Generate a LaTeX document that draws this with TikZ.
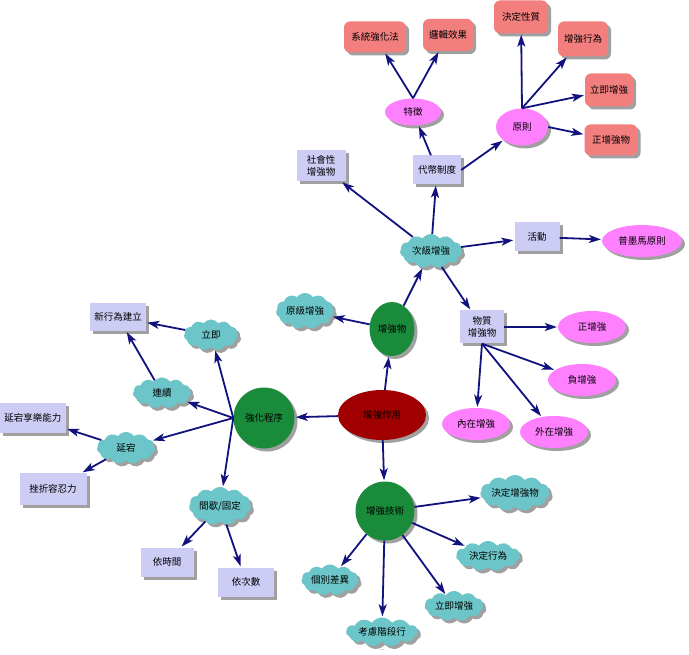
\documentclass[tikz,border=0pt]{standalone}
\usepackage{fontspec}
\newfontfamily\cjk{Noto Sans CJK TC}
\usetikzlibrary{shapes.geometric,shapes.symbols,shadows,arrows.meta}
\definecolor{navy}{HTML}{12127F}
\definecolor{boxc}{HTML}{CCCCF5}
\definecolor{rboxc}{HTML}{F27E7E}
\definecolor{pinkc}{HTML}{FF80FF}
\definecolor{cloudc}{HTML}{6CC5C8}
\definecolor{greenc}{HTML}{1A8B3B}
\definecolor{redc}{HTML}{A00000}
\definecolor{shadowc}{HTML}{A0A0A0}
\tikzset{
  base/.style={font=\cjk\fontsize{9.5}{11.5}\selectfont, text=black, inner sep=1pt, align=center,
    drop shadow={opacity=1,fill=shadowc,shadow xshift=3pt,shadow yshift=-3pt}},
  box/.style={base, rectangle, fill=boxc},
  rbox/.style={base, rectangle, rounded corners=6pt, fill=rboxc},
  pell/.style={base, ellipse, fill=pinkc},
  gell/.style={base, ellipse, fill=greenc},
  rell/.style={base, ellipse, fill=redc},
  cloudn/.style={base, cloud, cloud puffs=11, cloud puff arc=110, cloud ignores aspect, fill=cloudc},
  conn/.style={draw=navy, line width=1.8pt, -{Stealth[length=12pt,width=8pt,inset=3pt]}, shorten >=1pt},
  sz/.style 2 args={minimum width=#1pt, minimum height=#2pt}
}
\begin{document}
\begin{tikzpicture}[x=1pt,y=-1pt]
\useasboundingbox[fill=white] (0,0) rectangle (689,655);
% centre
\node[rell, sz={88}{50}] (zy) at (382,415) {增強作用};
% reinforcer branch
\node[gell, sz={45}{54}] (qhw) at (392,329) {增強物};
\node[cloudn, sz={58}{36}] (yjzq) at (305,311) {原級增強};
\node[cloudn, sz={62}{34}] (cjzq) at (431,251) {次級增強};
\node[box, sz={49}{31}] (shx) at (321,166) {社會性\\增強物};
\node[box, sz={48}{29}] (dbzd) at (437,170) {代幣制度};
\node[pell, sz={56}{27}] (tz) at (413,112) {特徵};
\node[pell, sz={52}{37}] (yz) at (522,127) {原則};
\node[rbox, sz={62}{31}] (xt) at (375,37) {系統強化法};
\node[rbox, sz={50}{32}] (lj) at (448,35) {邏輯效果};
\node[rbox, sz={54}{33}] (jdxz) at (521,17) {決定性質};
\node[rbox, sz={50}{35}] (zqxw) at (583,39) {增強行為};
\node[rbox, sz={48}{33}] (ljzq) at (609,90) {立即增強};
\node[rbox, sz={53}{31}] (zzqw) at (611,140) {正增強物};
\node[box, sz={45}{29}] (hd) at (537,237) {活動};
\node[pell, sz={80}{32}] (pml) at (642,241) {普墨馬原則};
\node[box, sz={44}{33}] (wz) at (482,327) {物質\\增強物};
\node[pell, sz={68}{32}] (zzq) at (592,327) {正增強};
\node[pell, sz={68}{32}] (fzq) at (582,380) {負增強};
\node[pell, sz={68}{32}] (nzzq) at (476,424) {內在增強};
\node[pell, sz={68}{32}] (wzzq) at (554,432) {外在增強};
% schedule branch
\node[gell, sz={61}{61}] (qhcx) at (264,418) {強化程序};
\node[cloudn, sz={54}{31}] (lij) at (211,335) {立即};
\node[cloudn, sz={58}{31}] (lx) at (162,393) {連續};
\node[box, sz={56}{28}] (xxw) at (118,317) {新行為建立};
\node[cloudn, sz={58}{32}] (yd) at (126,448) {延宕};
\node[box, sz={66}{30}] (ydxl) at (33,418) {延宕享樂能力};
\node[box, sz={67}{32}] (czrr) at (53,489) {挫折容忍力};
\node[cloudn, sz={62}{38}] (jx) at (220,506) {間歇/固定};
\node[box, sz={53}{29}] (ysj) at (167,562) {依時間};
\node[box, sz={56}{29}] (ycs) at (246,582) {依次數};
% technique branch
\node[gell, sz={59}{59}] (zqjs) at (385,511) {增強技術};
\node[cloudn, sz={64}{36}] (jdzqw) at (515,493) {決定增強物};
\node[cloudn, sz={64}{30}] (jdxw) at (488,556) {決定行為};
\node[cloudn, sz={59}{30}] (ljzq2) at (454,606) {立即增強};
\node[cloudn, sz={57}{31}] (gbcy) at (330,580) {個別差異};
\node[cloudn, sz={72}{29}] (klj) at (382,632) {考慮階段行};
\node[font=\cjk\fontsize{5}{5}\selectfont, inner sep=0pt] (dots) at (382,650) {…};
% connectors
\draw[conn] (zy) -- (qhw);
\draw[conn] (zy) -- (qhcx);
\draw[conn] (zy) -- (zqjs);
\draw[conn] (qhw) -- (yjzq);
\draw[conn] (qhw) -- (cjzq);
\draw[conn] (cjzq) -- (shx);
\draw[conn] (cjzq) -- (dbzd);
\draw[conn] (cjzq) -- (hd);
\draw[conn] (cjzq) -- (wz);
\draw[conn] (hd) -- (pml);
\draw[conn] (dbzd) -- (tz);
\draw[conn] (dbzd.east) -- (yz);
\draw[conn] (tz.north) -- (xt);
\draw[conn] (tz.north) -- (lj);
\draw[conn] (yz.north) -- (jdxz);
\draw[conn] (yz.north) -- (zqxw);
\draw[conn] (yz.north) -- (ljzq);
\draw[conn] (yz.east) -- (zzqw);
\draw[conn] (wz.east) -- (zzq);
\draw[conn] (wz.south) -- (fzq);
\draw[conn] (wz.south) -- (nzzq);
\draw[conn] (wz.south) -- (wzzq);
\draw[conn] (qhcx.west) -- (lij);
\draw[conn] (qhcx.west) -- (lx);
\draw[conn] (qhcx.west) -- (yd);
\draw[conn] (qhcx.west) -- (jx);
\draw[conn] (lij) -- (xxw);
\draw[conn] (lx) -- (xxw);
\draw[conn] (yd) -- (ydxl);
\draw[conn] (yd) -- (czrr);
\draw[conn] (jx) -- (ysj);
\draw[conn] (jx) -- (ycs);
\draw[conn] (zqjs) -- (jdzqw);
\draw[conn] (zqjs) -- (jdxw);
\draw[conn] (zqjs) -- (ljzq2);
\draw[conn] (zqjs) -- (gbcy);
\draw[conn] (zqjs) -- (klj);
\end{tikzpicture}
\end{document}
